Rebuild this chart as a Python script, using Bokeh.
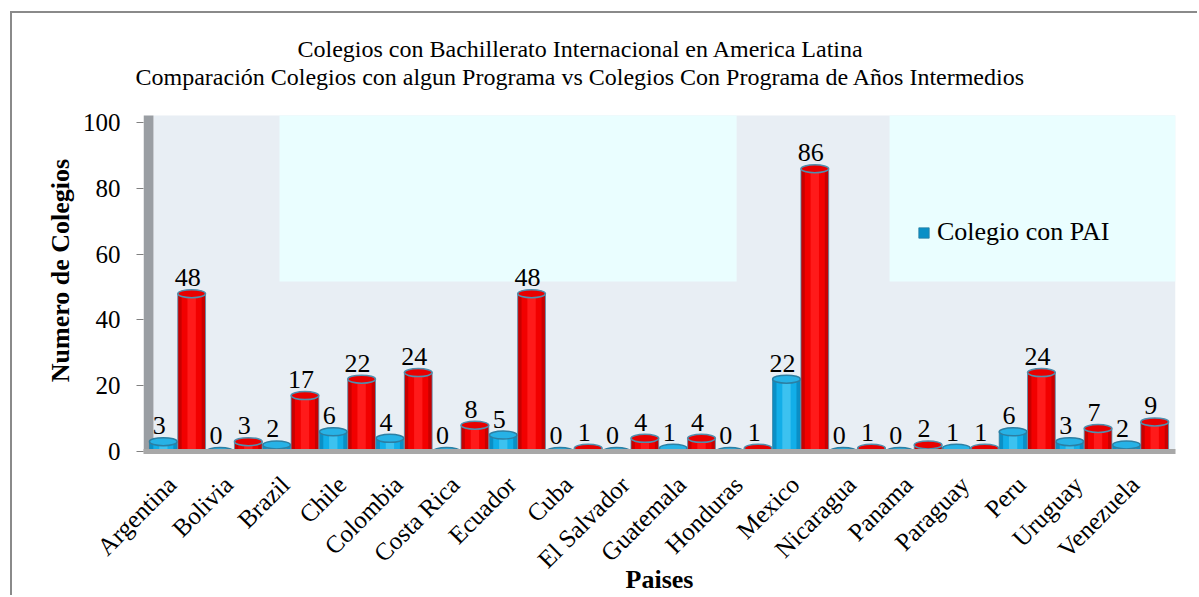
import math
from bokeh.plotting import figure
from bokeh.models import (Range1d, FixedTicker, BoxAnnotation, Title, Legend, LegendItem,
                          CustomJSTickFormatter)
from bokeh.core.properties import value
from bokeh.embed import file_html
from bokeh.resources import INLINE

# ---------------- data ----------------
countries = ["Argentina", "Bolivia", "Brazil", "Chile", "Colombia", "Costa Rica", "Ecuador",
             "Cuba", "El Salvador", "Guatemala", "Honduras", "Mexico", "Nicaragua", "Panama",
             "Paraguay", "Peru", "Uruguay", "Venezuela"]
pai = [3, 0, 2, 6, 4, 0, 5, 0, 0, 1, 0, 22, 0, 0, 1, 6, 3, 2]          # Colegio con PAI
algun = [48, 3, 17, 22, 24, 8, 48, 1, 4, 4, 1, 86, 1, 2, 1, 24, 7, 9]  # Colegios con algun programa
y_ticks = [0, 20, 40, 60, 80, 100]
title1 = "Colegios con Bachillerato Internacional en America Latina"
title2 = "Comparación Colegios con algun Programa vs Colegios Con Programa de Años Intermedios"
x_title = "Paises"
y_title = "Numero de Colegios"
legend_label = "Colegio con PAI"

# ---------------- style ----------------
FONT = '"Liberation Serif"'
BAR_W = 0.49
GRAY_BG = "#E8EEF4"
CYAN_BG = "#EAFEFF"
WALL = "#9A9EA3"
PLOT_TOP = 102.2      # top of the shaded plot area (value units)
WALL_RIGHT = -0.424   # right side of the left wall (category units)
LABEL_SHIFT = -0.1    # 3-D style shift of the category labels

n = len(countries)
idx = list(range(n))
xb = [i - 0.25 for i in idx]
xr = [i + 0.25 for i in idx]

p = figure(width=1187, height=584, output_backend="svg", toolbar_location=None,
           x_range=Range1d(-0.600, 17.617), y_range=Range1d(0, 110.1),
           min_border_left=131, min_border_right=24, min_border_top=76, min_border_bottom=146)
p.styles = {"margin-left": "10px", "margin-top": "11px",
            "border-left": "2px solid #8a8a8a", "border-top": "2px solid #8a8a8a"}
p.background_fill_color = "white"
p.border_fill_color = "white"
p.outline_line_color = None
p.xgrid.visible = False
p.ygrid.visible = False

# shaded plot area, light cyan panels and the left wall
p.add_layout(BoxAnnotation(left=WALL_RIGHT, top=PLOT_TOP, fill_color=GRAY_BG, fill_alpha=1,
                           line_color=None, level="underlay"))
p.add_layout(BoxAnnotation(left=1.80, right=9.87, top=PLOT_TOP, bottom=51.7, fill_color=CYAN_BG,
                           fill_alpha=1, line_color=None, level="underlay"))
p.add_layout(BoxAnnotation(left=12.57, top=PLOT_TOP, bottom=51.7, fill_color=CYAN_BG, fill_alpha=1,
                           line_color=None, level="underlay"))
p.add_layout(BoxAnnotation(right=WALL_RIGHT, top=PLOT_TOP, fill_color=WALL, fill_alpha=1,
                           line_color=None, level="underlay"))

def cylinder(xs, vals, edge, mid, light, cap, cap_line):
    zeros = [0] * len(xs)
    p.ellipse(x=xs, y=zeros, width=BAR_W, height=8, height_units="screen",
              fill_color=edge, line_color=None)
    body = p.vbar(x=xs, top=vals, width=BAR_W, fill_color=edge, line_color=cap_line, line_width=0.8)
    p.vbar(x=xs, top=vals, width=BAR_W * 0.72, fill_color=mid, line_color=None)
    p.vbar(x=xs, top=vals, width=BAR_W * 0.3, fill_color=light, line_color=None)
    p.ellipse(x=xs, y=vals, width=BAR_W, height=8, height_units="screen",
              fill_color=cap, line_color=cap_line, line_width=1.5)
    return body

blue = cylinder(xb, pai, "#0A8FC6", "#12AEE8", "#3CC2F0", "#27B2E6", "#2C7FA3")
red = cylinder(xr, algun, "#C80000", "#F20000", "#FF1A1A", "#E80000", "#4F8FAE")

# data labels
for xs, vals in ((xb, pai), (xr, algun)):
    p.text(x=xs, y=vals, text=[str(v) for v in vals], x_offset=-4, y_offset=-16,
           text_align="center", text_baseline="alphabetic",
           text_font=value(FONT), text_font_size="26px", text_color="black")

# y axis
ya = p.yaxis[0]
ya.ticker = FixedTicker(ticks=y_ticks)
ya.axis_line_color = None
ya.major_tick_line_color = "#808080"
ya.major_tick_out = 7
ya.major_tick_in = 0
ya.minor_tick_line_color = None
ya.major_label_standoff = 16
ya.major_label_text_font = FONT
ya.major_label_text_font_size = "25px"
ya.major_label_text_color = "black"
ya.axis_label = y_title
ya.axis_label_text_font = FONT
ya.axis_label_text_font_size = "26px"
ya.axis_label_text_font_style = "bold"
ya.axis_label_text_color = "black"
ya.axis_label_standoff = 5

# x axis (floor)
xa = p.xaxis[0]
xa.ticker = FixedTicker(ticks=[i + LABEL_SHIFT for i in idx])
xa.formatter = CustomJSTickFormatter(args=dict(names=countries),
                                     code="const i = Math.round(tick); return names[i] || '';")
xa.major_label_orientation = math.pi / 4
xa.axis_line_color = "#A8A8A8"
xa.axis_line_width = 5
xa.major_tick_line_color = None
xa.minor_tick_line_color = None
xa.major_label_standoff = 23
xa.major_label_text_font = FONT
xa.major_label_text_font_size = "25px"
xa.major_label_text_color = "black"
xa.axis_label = x_title
xa.axis_label_text_font = FONT
xa.axis_label_text_font_size = "26px"
xa.axis_label_text_font_style = "bold"
xa.axis_label_text_color = "black"
xa.axis_label_standoff = -21

# two-line chart title (later-added sits further from the frame)
p.add_layout(Title(text=title2, align="left", offset=-8, text_font=FONT, text_font_size="24px",
                   text_font_style="normal", text_color="black", standoff=0), "above")
p.add_layout(Title(text=title1, align="left", offset=154, text_font=FONT, text_font_size="24px",
                   text_font_style="normal", text_color="black", standoff=0), "above")

legend = Legend(items=[LegendItem(label=legend_label, renderers=[blue])],
                location=(774, 204), orientation="vertical",
                label_text_font=FONT, label_text_font_size="26px", label_text_color="black",
                glyph_width=13, glyph_height=13, label_standoff=7,
                padding=0, margin=0, border_line_color=None, background_fill_alpha=0)
p.add_layout(legend)

open("out.html", "w").write(file_html(p, INLINE))
